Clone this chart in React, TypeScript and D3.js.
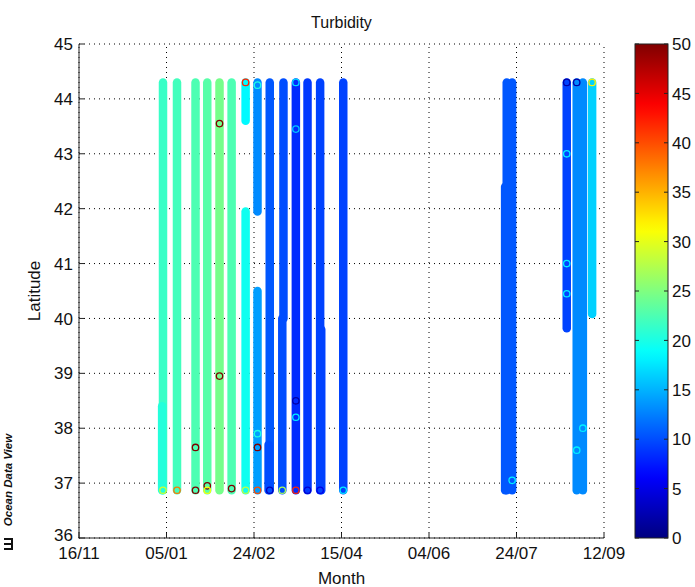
import React from "react";
import * as d3 from "d3";

// ---------- data ----------
const xTickLabels = ["16/11", "05/01", "24/02", "15/04", "04/06", "24/07", "12/09"];
const xTickDates = ["2009-11-16", "2010-01-05", "2010-02-24", "2010-04-15", "2010-06-04", "2010-07-24", "2010-09-12"];
const yTicks = [36, 37, 38, 39, 40, 41, 42, 43, 44, 45];
const colorTicks = [0, 5, 10, 15, 20, 25, 30, 35, 40, 45, 50];

// each entry = one sampled transect segment (date, latitude range, turbidity)
const trackDates = [
  "2010-01-03T00:00Z", "2010-01-02T12:00Z", "2010-01-11T00:00Z", "2010-01-21T14:00Z", "2010-01-28T07:00Z",
  "2010-02-04T07:00Z", "2010-02-11T05:00Z", "2010-02-19T05:00Z", "2010-02-19T05:00Z", "2010-02-26T00:00Z",
  "2010-02-26T00:00Z", "2010-03-05T00:00Z", "2010-03-04T08:00Z", "2010-03-12T20:00Z", "2010-03-12T04:00Z",
  "2010-03-19T22:00Z", "2010-03-26T14:00Z", "2010-04-02T19:00Z", "2010-04-03T10:00Z", "2010-04-16T00:00Z",
  "2010-07-17T12:00Z", "2010-07-18T10:00Z", "2010-07-21T12:00Z", "2010-08-21T17:00Z", "2010-08-27T10:00Z",
  "2010-08-30T22:00Z", "2010-09-05T05:00Z",
];
const trackLatTop = [
  44.3, 38.4, 44.3, 44.3, 44.3,
  44.3, 44.3, 44.3, 41.95, 44.3,
  40.5, 44.3, 37.7, 44.3, 40.0,
  44.3, 44.3, 44.3, 39.8, 44.3,
  42.4, 44.3, 44.3, 44.3, 44.3,
  44.3, 44.3,
];
const trackLatBottom = [
  36.87, 36.87, 36.87, 36.87, 36.87,
  36.87, 36.87, 43.6, 36.87, 41.95,
  36.87, 36.87, 36.87, 40.0, 36.87,
  36.87, 36.87, 36.87, 36.87, 36.87,
  36.87, 36.87, 36.87, 39.82, 36.87,
  36.87, 40.08,
];
const trackValues = [
  21.5, 20.5, 22, 22.5, 23,
  24.5, 22.5, 18.5, 19.5, 13,
  14, 10.5, 10, 10, 10,
  8.3, 9, 9.5, 9.5, 9.5,
  10.5, 10.5, 10.5, 9.5, 13,
  13, 16.5,
];

// individual highlighted samples (ring markers)
const ringDates = [
  "2010-02-19T05:00Z", "2010-02-26T00:00Z", "2010-03-19T22:00Z", "2010-03-19T22:00Z", "2010-02-04T07:00Z",
  "2010-01-03T00:00Z", "2010-01-11T00:00Z", "2010-01-21T14:00Z", "2010-01-28T07:00Z", "2010-01-28T07:00Z",
  "2010-02-11T05:00Z", "2010-02-19T05:00Z", "2010-02-26T00:00Z", "2010-03-05T00:00Z", "2010-03-12T04:00Z",
  "2010-03-19T22:00Z", "2010-03-26T14:00Z", "2010-04-02T19:00Z", "2010-04-16T00:00Z", "2010-01-21T14:00Z",
  "2010-02-04T07:00Z", "2010-02-26T00:00Z", "2010-02-26T00:00Z", "2010-03-19T22:00Z", "2010-03-19T22:00Z",
  "2010-08-21T17:00Z", "2010-08-27T10:00Z", "2010-09-05T05:00Z", "2010-08-21T17:00Z", "2010-08-21T17:00Z",
  "2010-08-21T17:00Z", "2010-07-21T12:00Z", "2010-08-30T22:00Z", "2010-08-27T10:00Z",
];
const ringLats = [
  44.3, 44.25, 44.3, 43.45, 43.55,
  36.87, 36.87, 36.87, 36.95, 36.87,
  36.9, 36.87, 36.87, 36.87, 36.87,
  36.87, 36.87, 36.87, 36.87, 37.65,
  38.95, 37.65, 37.9, 38.2, 38.5,
  44.3, 44.3, 44.3, 43.0, 41.0,
  40.45, 37.05, 38.0, 37.6,
];
const ringValues = [
  42, 20, 17, 16, 50,
  29, 38, 50, 50, 31,
  50, 28, 40, 3, 27,
  42, 4, 5, 18, 50,
  50, 50, 20, 18, 2,
  2, 2, 32, 18, 18,
  18, 18, 18, 18,
];

// ---------- layout ----------
const W = 695;
const H = 587;
const left = 79;
const right = 604;
const top = 44;
const bottom = 538;
const cbLeft = 635;
const cbRight = 668;
const FONT = "'Liberation Sans', Arial, Helvetica, sans-serif";

function clamp01(v: number) {
  return Math.max(0, Math.min(1, v));
}
function jet(t: number) {
  const v = clamp01(t);
  const r = clamp01(1.5 - Math.abs(4 * v - 3));
  const g = clamp01(1.5 - Math.abs(4 * v - 2));
  const b = clamp01(1.5 - Math.abs(4 * v - 1));
  return d3.rgb(r * 255, g * 255, b * 255).formatHex();
}

export default function App() {
  const x = d3
    .scaleUtc()
    .domain([new Date("2009-11-16T00:00Z"), new Date("2010-09-12T00:00Z")])
    .range([left, right]);
  const y = d3.scaleLinear().domain([36, 45]).range([bottom, top]);
  const color = d3.scaleSequential((t: number) => jet(t)).domain([0, 50]);
  const cbY = d3.scaleLinear().domain([0, 50]).range([bottom, top]);

  const line = d3
    .line<[Date, number]>()
    .x((d) => x(d[0]))
    .y((d) => y(d[1]));

  const tracks = trackDates.map((ds, i) => {
    const dt = new Date(ds);
    return {
      path: line([
        [dt, trackLatTop[i]],
        [dt, trackLatBottom[i]],
      ]) as string,
      color: color(trackValues[i]),
    };
  });

  const rings = ringDates.map((ds, i) => ({
    cx: x(new Date(ds)),
    cy: y(ringLats[i]),
    color: color(ringValues[i]),
  }));

  const gradStops = d3.range(0, 1.0001, 0.02).map((t) => ({ offset: t, color: jet(t) }));

  return (
    <svg width={W} height={H} style={{ position: "absolute", left: 0, top: 0, background: "#fff" }}>
      <defs>
        <linearGradient id="jetgrad" x1="0" y1="1" x2="0" y2="0">
          {gradStops.map((s, i) => (
            <stop key={i} offset={s.offset} stopColor={s.color} />
          ))}
        </linearGradient>
      </defs>
      <rect x={0} y={0} width={W} height={H} fill="#fff" />

      {/* grid */}
      <g stroke="#000" strokeWidth={1} strokeDasharray="1,4">
        {xTickDates.map((d, i) => (
          <line key={"gx" + i} x1={x(new Date(d + "T00:00Z"))} x2={x(new Date(d + "T00:00Z"))} y1={bottom} y2={top} />
        ))}
        {yTicks.map((t) => (
          <line key={"gy" + t} x1={left} x2={right} y1={y(t)} y2={y(t)} />
        ))}
      </g>

      {/* tracks */}
      <g fill="none" strokeLinecap="round">
        {tracks.map((t, i) => (
          <path key={i} d={t.path} stroke={t.color} strokeWidth={8.5} />
        ))}
      </g>
      <g fill="none" strokeWidth={1.3}>
        {rings.map((r, i) => (
          <circle key={i} cx={r.cx} cy={r.cy} r={3.2} stroke={r.color} />
        ))}
      </g>

      {/* axes */}
      <g stroke="#222" strokeWidth={1}>
        <line x1={left} x2={left} y1={top} y2={bottom + 0.5} />
        <line x1={left} x2={right} y1={bottom} y2={bottom} />
        {yTicks.map((t) => (
          <line key={"ty" + t} x1={left} x2={left + 5} y1={y(t)} y2={y(t)} />
        ))}
        {xTickDates.map((d, i) => (
          <line key={"tx" + i} x1={x(new Date(d + "T00:00Z"))} x2={x(new Date(d + "T00:00Z"))} y1={bottom} y2={bottom - 5} />
        ))}
      </g>

      {/* tick labels */}
      <g fontFamily={FONT} fontSize={17} fill="#111">
        {yTicks.map((t) => (
          <text key={"ly" + t} x={left - 6} y={y(t)} dy={t === 36 ? "0.2em" : "0.36em"} textAnchor="end">
            {t}
          </text>
        ))}
        {xTickLabels.map((lab, i) => (
          <text key={"lx" + i} x={x(new Date(xTickDates[i] + "T00:00Z"))} y={bottom + 21} textAnchor="middle">
            {lab}
          </text>
        ))}
      </g>

      {/* titles */}
      <text x={(left + right) / 2} y={28} textAnchor="middle" fontFamily={FONT} fontSize={16} fill="#111">
        Turbidity
      </text>
      <text x={(left + right) / 2} y={584} textAnchor="middle" fontFamily={FONT} fontSize={17} fill="#111">
        Month
      </text>
      <text
        transform={`translate(40,${(top + bottom) / 2}) rotate(-90)`}
        textAnchor="middle"
        fontFamily={FONT}
        fontSize={17}
        fill="#111"
      >
        Latitude
      </text>

      {/* colorbar */}
      <rect x={cbLeft} y={top} width={cbRight - cbLeft} height={bottom - top} fill="url(#jetgrad)" stroke="#222" strokeWidth={1} />
      <g stroke="#222" strokeWidth={1}>
        {colorTicks.map((t) => (
          <g key={"ct" + t}>
            <line x1={cbLeft} x2={cbLeft + 4} y1={cbY(t)} y2={cbY(t)} />
            <line x1={cbRight - 4} x2={cbRight} y1={cbY(t)} y2={cbY(t)} />
          </g>
        ))}
      </g>
      <g fontFamily={FONT} fontSize={17} fill="#111">
        {colorTicks.map((t) => (
          <text key={"cl" + t} x={cbRight + 4} y={cbY(t)} dy="0.36em">
            {t}
          </text>
        ))}
      </g>

      {/* watermark */}
      <text
        transform="translate(12,480) rotate(-90)"
        textAnchor="middle"
        fontFamily={FONT}
        fontSize={11.5}
        fontWeight="bold"
        fontStyle="italic"
        fill="#111"
      >
        Ocean Data View
      </text>
      <g fill="#111">
        <rect x={4} y={538} width={9} height={2} />
        <rect x={4} y={543} width={9} height={2} />
        <rect x={4} y={548} width={9} height={2} />
        <rect x={11} y={538} width={2} height={12} />
      </g>
    </svg>
  );
}
